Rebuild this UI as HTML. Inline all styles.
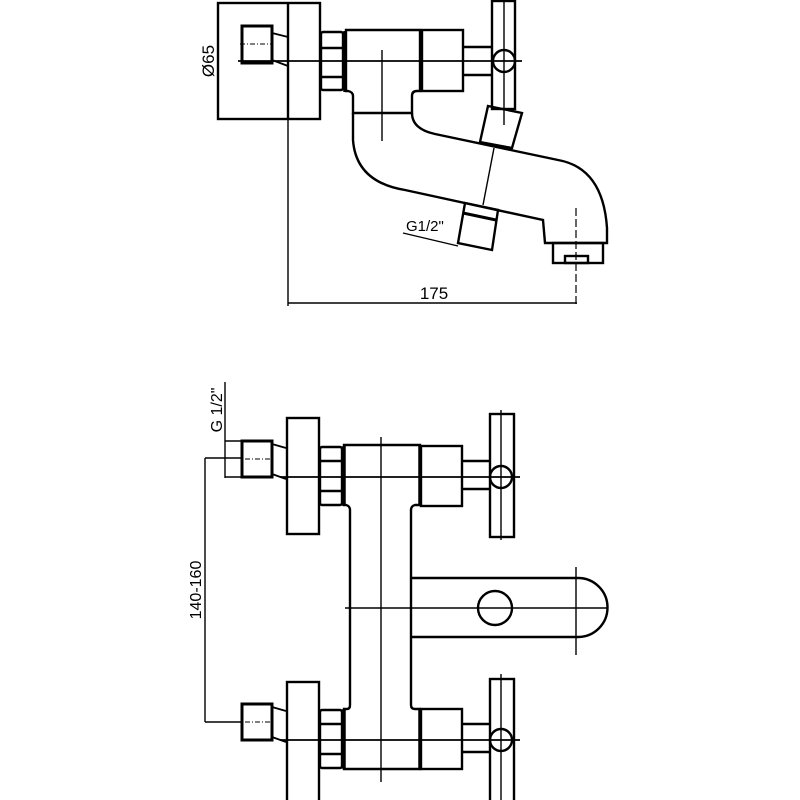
<!DOCTYPE html>
<html><head><style>
html,body{margin:0;padding:0;background:#fff;width:800px;height:800px;overflow:hidden}
svg{display:block}
text{font-family:"Liberation Sans",Arial,sans-serif;fill:#000}
</style></head><body>
<svg width="800" height="800" viewBox="0 0 800 800" xmlns="http://www.w3.org/2000/svg">
<defs>
<g id="valve" fill="none" stroke="#000">
  <rect x="242" y="-36" width="30" height="36" stroke-width="3"/>
  <line x1="272" y1="-33" x2="286" y2="-29" stroke-width="1.8"/>
  <line x1="272" y1="-3" x2="286" y2="2" stroke-width="1.8"/>
  <line x1="245" y1="-18" x2="270" y2="-18" stroke-width="1" stroke-dasharray="5,2,1,2"/>
  <rect x="320" y="-30" width="22" height="58" rx="2" stroke-width="2.4"/>
  <line x1="320" y1="-16" x2="342" y2="-16" stroke-width="2.4"/>
  <line x1="320" y1="14" x2="342" y2="14" stroke-width="2.4"/>
  <line x1="344" y1="-31" x2="344" y2="29" stroke-width="3.5"/>
  <line x1="420" y1="-31" x2="420" y2="29" stroke-width="3.5"/>
  <rect x="421" y="-31" width="41" height="60" stroke-width="2.4"/>
  <line x1="462" y1="-16" x2="490" y2="-16" stroke-width="2.4"/>
  <line x1="462" y1="12" x2="490" y2="12" stroke-width="2.4"/>
  <circle cx="501" cy="0" r="11" stroke-width="2.4"/>
  <line x1="280" y1="0" x2="520" y2="0" stroke-width="1.8"/>
</g>
</defs>

<g fill="none" stroke="#000">
  <rect x="218" y="3" width="102" height="116" stroke-width="2.4"/>
  <line x1="288" y1="3" x2="288" y2="119" stroke-width="2.4"/>
  <rect x="242" y="26" width="30" height="37" stroke-width="3"/>
  <line x1="272" y1="33" x2="288" y2="37" stroke-width="1.8"/>
  <line x1="272" y1="60" x2="288" y2="66" stroke-width="1.8"/>
  <line x1="240" y1="44" x2="272" y2="44" stroke-width="1" stroke-dasharray="5,2,1,2"/>
  <rect x="321" y="32" width="22" height="58" rx="2" stroke-width="2.4"/>
  <line x1="321" y1="48" x2="343" y2="48" stroke-width="2.4"/>
  <line x1="321" y1="77" x2="343" y2="77" stroke-width="2.4"/>
  <line x1="345" y1="31" x2="345" y2="92" stroke-width="3.5"/>
  <path d="M346 30 L420 30 L420 91 L417 91 Q412 91 412 96 L412 113 L353 113 L353 96 Q353 92 348 91 L346 91 Z" stroke-width="2.4"/>
  <line x1="421" y1="30" x2="421" y2="91" stroke-width="3.5"/>
  <rect x="422" y="30" width="41" height="61" stroke-width="2.4"/>
  <rect x="492" y="1" width="23" height="108" stroke-width="2.4"/>
  <line x1="463" y1="47" x2="492" y2="47" stroke-width="2.4"/>
  <line x1="463" y1="75" x2="492" y2="75" stroke-width="2.4"/>
  <line x1="504" y1="1" x2="504" y2="125" stroke-width="1.4"/>
  <circle cx="504" cy="61" r="11" stroke-width="2.4"/>
  <line x1="238" y1="61" x2="522" y2="61" stroke-width="1.8"/>
  <line x1="382" y1="50" x2="382" y2="141" stroke-width="1.4"/>
  <polygon points="488,106 522,113 512,148 480,142" stroke-width="2.4"/>
  <line x1="494" y1="148" x2="483" y2="205" stroke-width="1.4"/>
  <path d="M353 113 L353 140 Q356 182 405 190 L543 220 L545 243 L607 243 L607 228 Q603 168 558 160 L435 134 Q412 129 412 113" stroke-width="2.4"/>
  <rect x="553" y="243" width="50" height="20" stroke-width="2.4"/>
  <rect x="565" y="256" width="23" height="7" stroke-width="2.4"/>
  <line x1="576" y1="208" x2="576" y2="305" stroke-width="1.2" stroke-dasharray="8,3"/>
  <polygon points="465,203 498,210 492,250 458,243" stroke-width="2.4"/>
  <line x1="463" y1="213" x2="496" y2="220" stroke-width="3"/>
  <line x1="403" y1="233" x2="458" y2="246" stroke-width="1.4"/>
  <line x1="288" y1="119" x2="288" y2="306" stroke-width="1.4"/>
  <line x1="288" y1="303" x2="577" y2="303" stroke-width="1.4"/>
</g>
<text x="434" y="299" font-size="17" text-anchor="middle">175</text>
<text x="406" y="231" font-size="15">G1/2"</text>
<text transform="translate(214,61) rotate(-90)" font-size="17" text-anchor="middle">Ø65</text>

<g fill="none" stroke="#000">
  <rect x="287" y="418" width="32" height="116" stroke-width="2.4"/>
  <rect x="287" y="682" width="32" height="130" stroke-width="2.4"/>
  <rect x="490" y="414" width="24" height="123" stroke-width="2.4"/>
  <line x1="501" y1="410" x2="501" y2="540" stroke-width="1.4"/>
  <rect x="490" y="679" width="24" height="130" stroke-width="2.4"/>
  <line x1="501" y1="674" x2="501" y2="800" stroke-width="1.4"/>
  <path d="M344 445 L420 445 L420 505 L415 505 Q411 506 411 510 L411 705 Q411 709 415 709 L420 709 L420 769 L344 769 L344 709 L347 709 Q350 709 350 705 L350 510 Q350 506 346 505 L344 505 Z" stroke-width="2.4"/>
  <line x1="381" y1="437" x2="381" y2="782" stroke-width="1.4"/>
  <path d="M412 578 L578 578 A29.5 29.5 0 0 1 578 637 L412 637" stroke-width="2.4"/>
  <circle cx="495" cy="608" r="17" stroke-width="2.4"/>
  <line x1="345" y1="608" x2="607" y2="608" stroke-width="1.4"/>
  <line x1="576" y1="567" x2="576" y2="655" stroke-width="1.4"/>
  <line x1="225" y1="382" x2="225" y2="478" stroke-width="1.4"/>
  <line x1="225" y1="441" x2="243" y2="441" stroke-width="1.4"/>
  <line x1="225" y1="477" x2="243" y2="477" stroke-width="1.4"/>
  <line x1="205" y1="458" x2="205" y2="722" stroke-width="1.4"/>
  <line x1="205" y1="458" x2="243" y2="458" stroke-width="1.4"/>
  <line x1="205" y1="722" x2="243" y2="722" stroke-width="1.4"/>
</g>
<use href="#valve" transform="translate(0,477)"/>
<use href="#valve" transform="translate(0,740)"/>
<text transform="translate(222,410) rotate(-90)" font-size="16" text-anchor="middle">G 1/2"</text>
<text transform="translate(201,590) rotate(-90)" font-size="16" text-anchor="middle">140-160</text>
</svg>
</body></html>
